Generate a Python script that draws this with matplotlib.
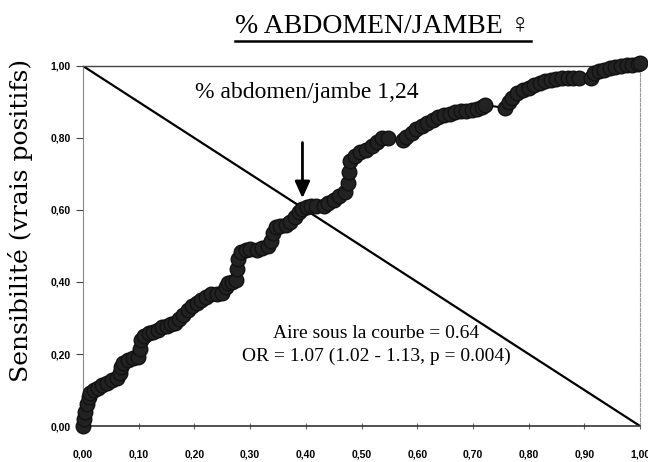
import numpy as np
import matplotlib
matplotlib.use("Agg")
import matplotlib.pyplot as plt
from matplotlib.lines import Line2D

# ROC curve (1 - specificity, sensitivity)
fpr = [0.000, 0.002, 0.004, 0.008, 0.010, 0.013, 0.020, 0.027, 0.035, 0.043,
       0.052, 0.061, 0.066, 0.068, 0.072, 0.080, 0.090, 0.098, 0.102, 0.104,
       0.110, 0.118, 0.126, 0.134, 0.142, 0.150, 0.158, 0.166, 0.172, 0.180,
       0.188, 0.196, 0.204, 0.212, 0.220, 0.230, 0.240, 0.250, 0.256, 0.260,
       0.268, 0.274, 0.277, 0.279, 0.284, 0.292, 0.300, 0.313, 0.322, 0.332,
       0.338, 0.342, 0.346, 0.354, 0.364, 0.372, 0.380, 0.388, 0.394, 0.402,
       0.410, 0.418, 0.432, 0.440, 0.450, 0.460, 0.470, 0.476, 0.478, 0.480,
       0.488, 0.498, 0.508, 0.518, 0.528, 0.536, 0.548, 0.574, 0.580, 0.590,
       0.598, 0.608, 0.618, 0.628, 0.638, 0.648, 0.658, 0.668, 0.678, 0.688,
       0.698, 0.708, 0.716, 0.722, 0.758, 0.764, 0.770, 0.780, 0.790, 0.800,
       0.810, 0.820, 0.830, 0.840, 0.850, 0.860, 0.870, 0.880, 0.890, 0.912,
       0.918, 0.926, 0.936, 0.946, 0.956, 0.966, 0.976, 0.986, 0.996, 1.000]
tpr = [0.000, 0.020, 0.040, 0.060, 0.080, 0.092, 0.100, 0.105, 0.113, 0.120,
       0.128, 0.134, 0.148, 0.163, 0.176, 0.184, 0.188, 0.193, 0.213, 0.238,
       0.250, 0.257, 0.262, 0.267, 0.274, 0.279, 0.283, 0.287, 0.297, 0.309,
       0.322, 0.333, 0.342, 0.351, 0.358, 0.366, 0.368, 0.370, 0.386, 0.398,
       0.400, 0.406, 0.435, 0.465, 0.483, 0.490, 0.491, 0.490, 0.495, 0.501,
       0.515, 0.535, 0.554, 0.556, 0.559, 0.566, 0.581, 0.594, 0.604, 0.609,
       0.610, 0.611, 0.612, 0.619, 0.629, 0.639, 0.650, 0.675, 0.705, 0.735,
       0.750, 0.760, 0.767, 0.779, 0.789, 0.800, 0.800, 0.794, 0.802, 0.814,
       0.824, 0.834, 0.842, 0.850, 0.858, 0.864, 0.868, 0.872, 0.874, 0.876,
       0.878, 0.880, 0.886, 0.892, 0.883, 0.900, 0.912, 0.924, 0.934, 0.940,
       0.946, 0.952, 0.957, 0.961, 0.964, 0.966, 0.967, 0.967, 0.966, 0.966,
       0.980, 0.985, 0.990, 0.994, 0.997, 1.000, 1.002, 1.004, 1.006, 1.008]

cutoff_fpr = 0.394
cutoff_tpr = 0.625
cutoff_label = "% abdomen/jambe 1,24"
title = "% ABDOMEN/JAMBE \u2640"
stats_text = "Aire sous la courbe = 0.64\nOR = 1.07 (1.02 - 1.13, p = 0.004)"
ticks = [0.0, 0.1, 0.2, 0.3, 0.4, 0.5, 0.6, 0.7, 0.8, 0.9, 1.0]
tick_labels = ["0,00", "0,10", "0,20", "0,30", "0,40", "0,50",
               "0,60", "0,70", "0,80", "0,90", "1,00"]
ytick_vals = [0.0, 0.2, 0.4, 0.6, 0.8, 1.0]
ytick_labels = ["0,00", "0,20", "0,40", "0,60", "0,80", "1,00"]

serif = ["Liberation Serif", "DejaVu Serif"]
wide_serif = ["DejaVu Serif"]
sans = ["Liberation Sans Narrow", "Liberation Sans", "DejaVu Sans"]

fig = plt.figure(figsize=(6.48, 4.62), dpi=100)
ax = fig.add_axes([83/648, 1 - 426/462, 557/648, 360/462])

# diagonal reference line
ax.plot([0, 1], [1, 0], color="black", lw=1.6, zorder=2)

ax.plot(fpr, tpr, color="black", lw=1.5, marker="o", markersize=10.5,
        markerfacecolor="#222222", markeredgecolor="#111111",
        clip_on=False, zorder=3)

ax.annotate("", xy=(cutoff_fpr, cutoff_tpr), xytext=(cutoff_fpr, 0.795),
            arrowprops=dict(arrowstyle="-|>,head_length=1.0,head_width=0.45",
                            color="black", lw=2), zorder=4)

ax.text(0.201, 0.911, cutoff_label, fontsize=17, family=serif)
ax.text(0.527, 0.225, stats_text, fontsize=14, family=serif,
        ha="center", va="center", linespacing=1.5)

ax.set_xlim(0, 1)
ax.set_ylim(0, 1)
ax.set_xticks(ticks)
ax.set_xticklabels(tick_labels)
ax.set_yticks(ytick_vals)
ax.set_yticklabels(ytick_labels)
for lab in ax.get_xticklabels() + ax.get_yticklabels():
    lab.set_family(sans)
    lab.set_fontsize(7.5)
    lab.set_fontweight("bold")
ax.tick_params(axis="x", direction="inout", length=4, color="#666666",
               pad=15)
ax.tick_params(axis="y", direction="out", length=5, color="#444444",
               pad=4)

ax.spines["left"].set_color("#888888")
ax.spines["left"].set_linewidth(0.8)
ax.spines["left"].set_linestyle((0, (4, 1)))
ax.spines["bottom"].set_color("#333333")
ax.spines["bottom"].set_linewidth(1.2)
ax.spines["top"].set_color("#444444")
ax.spines["top"].set_linewidth(1.0)
ax.spines["right"].set_color("#999999")
ax.spines["right"].set_linewidth(0.8)
ax.spines["right"].set_linestyle((0, (3, 1.5)))

ax.set_ylabel("Sensibilité (vrais positifs)", fontsize=18, family=wide_serif)
ax.yaxis.set_label_coords(-0.09, 0.57)

t = fig.text(383/648, 1 - 33/462, title, fontsize=20, family=serif,
             ha="center", va="baseline")

# underline under the title
fig.canvas.draw()
bb = t.get_window_extent()
W, H = fig.bbox.width, fig.bbox.height
uy = (bb.y0 - 2) / H
fig.add_artist(Line2D([bb.x0 / W, bb.x1 / W], [uy, uy], color="black",
                      lw=1.8, transform=fig.transFigure))

fig.savefig("out.png", dpi=100)
